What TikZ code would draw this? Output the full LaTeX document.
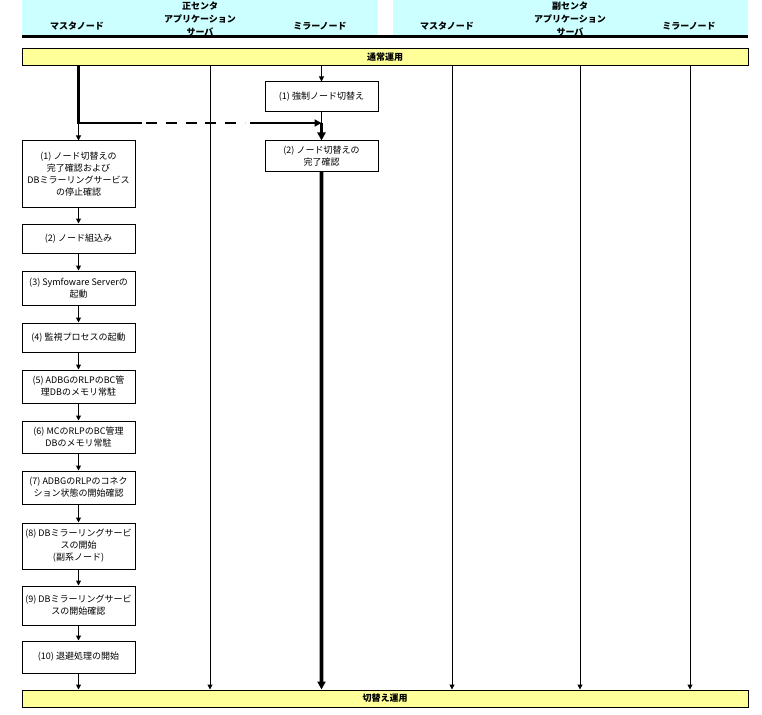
\documentclass[tikz,border=0pt]{standalone}
\usepackage{fontspec}
\setmainfont{Noto Sans CJK JP}
\usetikzlibrary{arrows.meta}
\definecolor{hdrcyan}{HTML}{CCFFFF}
\definecolor{bandyel}{HTML}{FFFF99}
\tikzset{
  stepbox/.style={draw=black, line width=1pt, fill=white, minimum width=113pt, inner sep=0pt, align=center, font=\fontsize{9}{12}\selectfont},
  band/.style={draw=black, line width=1pt, fill=bandyel, minimum width=726pt, minimum height=17pt, inner sep=0pt, font=\fontsize{9}{11}\selectfont\bfseries},
  hdr/.style={align=center, inner sep=0pt, font=\fontsize{9}{13}\selectfont\bfseries},
  arr/.style={line width=1pt, -{Triangle[length=5pt,width=5pt]}},
  thinl/.style={line width=1pt},
  thickl/.style={line width=2.6pt},
  bigarr/.style={line width=2.6pt, -{Triangle[length=8pt,width=8pt]}}
}
\begin{document}
\begin{tikzpicture}[x=1pt,y=-1pt]
\useasboundingbox (0,0) rectangle (762,714);
% header
\fill[hdrcyan] (22,0) rectangle (378,35);
\fill[hdrcyan] (393,0) rectangle (748,35);
\draw[line width=3pt] (22,36.5) -- (748,36.5);
\node[hdr] (h1) at (77,26) {マスタノード};
\node[hdr] (h2) at (200,19.5) {正センタ\\アプリケーション\\サーバ};
\node[hdr] (h3) at (320,26) {ミラーノード};
\node[hdr] (h4) at (447,26) {マスタノード};
\node[hdr] (h5) at (570,19.5) {副センタ\\アプリケーション\\サーバ};
\node[hdr] (h6) at (689,26) {ミラーノード};
% bands
\node[band] (top) at (385,57.5) {通常運用};
\node[band] (bot) at (385,698.5) {切替え運用};
% lifeline x positions
\coordinate (xA) at (210,0);
\coordinate (xB) at (452,0);
\coordinate (xC) at (580,0);
\coordinate (xD) at (690,0);
% mirror boxes
\node[stepbox, minimum height=30pt] (m1) at (321.5,97) {(1) 強制ノード切替え};
\node[stepbox, minimum height=31pt] (m2) at (321.5,156.5) {(2) ノード切替えの\\完了確認};
% master boxes
\node[stepbox, minimum height=66pt] (L1) at (78.5,174) {(1) ノード切替えの\\完了確認および\\DBミラーリングサービス\\の停止確認};
\node[stepbox, minimum height=29pt] (L2) at (78.5,238.5) {(2) ノード組込み};
\node[stepbox, minimum height=34pt] (L3) at (78.5,288) {(3) Symfoware Serverの\\起動};
\node[stepbox, minimum height=29pt] (L4) at (78.5,337.5) {(4) 監視プロセスの起動};
\node[stepbox, minimum height=33pt] (L5) at (78.5,386.5) {(5) ADBGのRLPのBC管\\理DBのメモリ常駐};
\node[stepbox, minimum height=32pt] (L6) at (78.5,437) {(6) MCのRLPのBC管理\\DBのメモリ常駐};
\node[stepbox, minimum height=33pt] (L7) at (78.5,487.5) {(7) ADBGのRLPのコネク\\ション状態の開始確認};
\node[stepbox, minimum height=46pt] (L8) at (78.5,546) {(8) DBミラーリングサービ\\スの開始\\(副系ノード)};
\node[stepbox, minimum height=39pt] (L9) at (78.5,605.5) {(9) DBミラーリングサービ\\スの開始確認};
\node[stepbox, minimum height=32pt] (L10) at (78.5,657) {(10) 退避処理の開始};
% thin lifelines
\draw[arr] (top.south -| xA) -- (bot.north -| xA);
\draw[arr] (top.south -| xB) -- (bot.north -| xB);
\draw[arr] (top.south -| xC) -- (bot.north -| xC);
\draw[arr] (top.south -| xD) -- (bot.north -| xD);
% junction coordinates
\coordinate (j1) at (78.5,123);
\coordinate (d1) at (142,123);
\coordinate (d2) at (146,123);
\coordinate (d3) at (245,123);
\coordinate (d4) at (250,123);
\coordinate (j2) at (321.5,123);
% master thick line and dashed arrow to mirror
\draw[thickl] (top.south -| j1) -- (j1) -- (d1);
\draw[thickl, dash pattern=on 11pt off 8.8pt] (d2) -- (d3);
\draw[thickl, -{Triangle[length=7pt,width=7pt]}] (d4) -- (j2);
% mirror flow
\draw[arr] (top.south -| m1) -- (m1.north);
\draw[thinl] (m1.south) -- (j2);
\draw[bigarr] (j2) -- (m2.north);
\draw[line width=4.6pt, black!35, shorten >=8pt] (m2.south) -- (bot.north -| m2);
\draw[bigarr] (m2.south) -- (bot.north -| m2);
% master flow
\draw[arr] (j1) -- (L1.north);
\draw[arr] (L1.south) -- (L2.north);
\draw[arr] (L2.south) -- (L3.north);
\draw[arr] (L3.south) -- (L4.north);
\draw[arr] (L4.south) -- (L5.north);
\draw[arr] (L5.south) -- (L6.north);
\draw[arr] (L6.south) -- (L7.north);
\draw[arr] (L7.south) -- (L8.north);
\draw[arr] (L8.south) -- (L9.north);
\draw[arr] (L9.south) -- (L10.north);
\draw[arr] (L10.south) -- (bot.north -| L10);
\end{tikzpicture}
\end{document}
